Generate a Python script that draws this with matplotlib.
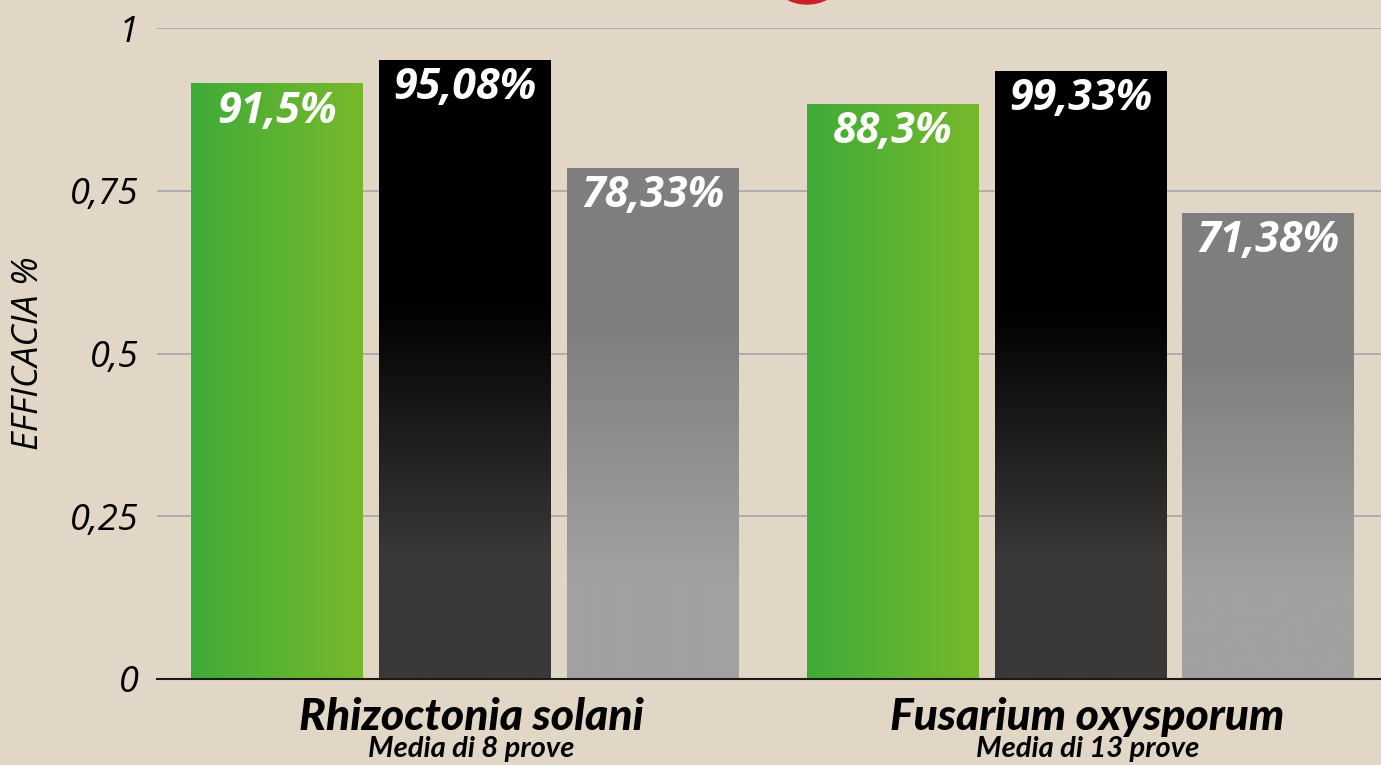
import numpy as np
import matplotlib.pyplot as plt
from matplotlib.colors import LinearSegmentedColormap
from matplotlib.patches import Ellipse

# data
categories = ["Rhizoctonia solani", "Fusarium oxysporum"]
subtitles = ["Media di 8 prove", "Media di 13 prove"]
green_vals = [0.915, 0.883]
black_vals = [0.951, 0.934]
gray_vals = [0.785, 0.716]
green_labels = ["91,5%", "88,3%"]
black_labels = ["95,08%", "99,33%"]
gray_labels = ["78,33%", "71,38%"]
yticks = [0, 0.25, 0.5, 0.75, 1]
ytick_labels = ["0", "0,25", "0,5", "0,75", "1"]

bg = "#e2d7c6"

fig = plt.figure(figsize=(13.81, 7.65), dpi=100, facecolor=bg)
ax = fig.add_axes([157 / 1381, 1 - 679 / 765, 1 - 157 / 1381, (679 - 28) / 765])
ax.set_facecolor(bg)
ax.set_xlim(0, 2)
ax.set_ylim(0, 1)

# gradients
cm_green = LinearSegmentedColormap.from_list("g", ["#3fab38", "#78b92b"])
cm_black = LinearSegmentedColormap.from_list(
    "k", [(0, "#3a3938"), (0.19, "#3a3938"), (0.61, "#000000"), (1, "#000000")])
cm_gray = LinearSegmentedColormap.from_list(
    "s", [(0, "#a1a1a1"), (0.19, "#a1a1a1"), (0.68, "#7f7f7f"), (1, "#7f7f7f")])

x = np.array([0.503, 1.509])
w = 0.281
off = 0.307

def grad_bars(xs, vals, cmap, horizontal):
    bars = ax.bar(xs, vals, width=w, color="none", edgecolor="none", zorder=3)
    for b in bars:
        x0, y0 = b.get_x(), b.get_y()
        x1, y1 = x0 + b.get_width(), y0 + b.get_height()
        if horizontal:
            g = np.linspace(0, 1, 256).reshape(1, -1)
        else:
            g = np.linspace(0, 1, 256).reshape(-1, 1)
        im = ax.imshow(g, cmap=cmap, extent=[x0, x1, y0, y1], origin="lower",
                       aspect="auto", zorder=3, interpolation="bicubic")
        im.set_clip_path(b)
    return bars

bars_g = grad_bars(x - off, green_vals, cm_green, True)
bars_k = grad_bars(x, black_vals, cm_black, False)
bars_s = grad_bars(x + off, gray_vals, cm_gray, False)
ax.set_xlim(0, 2)
ax.set_ylim(0, 1)

for bars, labels in [(bars_g, green_labels), (bars_k, black_labels), (bars_s, gray_labels)]:
    for b, lab in zip(bars, labels):
        ax.annotate(lab, (b.get_x() + b.get_width() / 2, b.get_height()),
                    xytext=(0, -20), textcoords="offset points",
                    ha="center", va="center", color="white", fontsize=31,
                    fontweight="bold", fontstyle="italic", family="Open Sans", zorder=5)

# grid and axis
ax.set_yticks(yticks)
ax.set_yticklabels(ytick_labels, fontsize=26, fontstyle="italic", family="Open Sans")
ax.tick_params(axis="y", length=0, pad=13)
ax.tick_params(axis="x", length=0)
ax.set_xticks([])
ax.grid(axis="y", color="#a9aaaa", linewidth=1.3, zorder=0)
for s in ["top", "right", "left"]:
    ax.spines[s].set_visible(False)
ax.spines["bottom"].set_color("#1a1a1a")
ax.spines["bottom"].set_linewidth(1.5)
ax.spines["bottom"].set_zorder(4)

ax.set_ylabel("EFFICACIA %", fontsize=26, fontstyle="italic", family="Open Sans")
ax.yaxis.set_label_coords(-110 / 1224, 0.5)

for xc, cat, sub in zip(x, categories, subtitles):
    ax.text(xc + 0.011, -0.058, cat, transform=ax.get_xaxis_transform(), ha="center",
            va="center", fontsize=32, fontweight="black", fontstyle="italic", family="Lato")
    ax.text(xc + 0.011, -0.108, sub, transform=ax.get_xaxis_transform(), ha="center",
            va="center", fontsize=21, fontweight="bold", fontstyle="italic", family="Lato")

# cut-off red logo at the top
fig.patches.append(Ellipse((807 / 1381, 1 + 14 / 765), 58 / 1381, 36 / 765,
                           transform=fig.transFigure, color="#c9202a", zorder=5))

fig.savefig("out.png", dpi=100, facecolor=bg)
